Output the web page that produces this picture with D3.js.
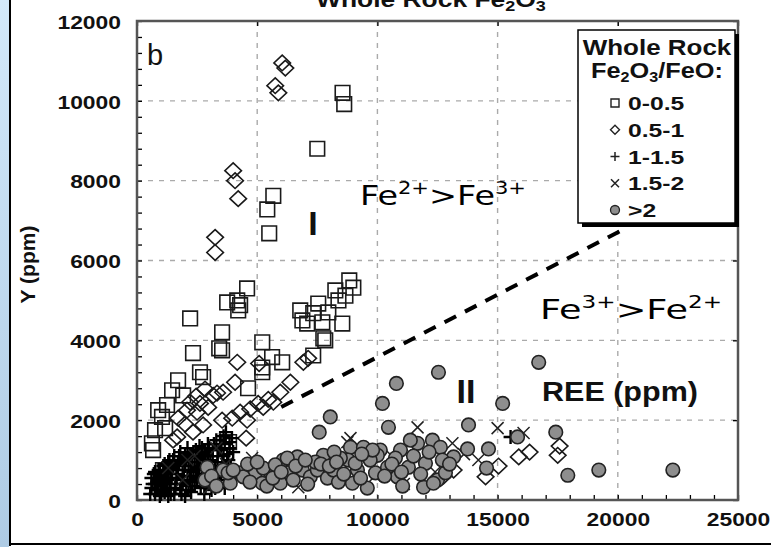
<!DOCTYPE html>
<html lang="en">
<head>
<meta charset="UTF-8">
<title>Whole Rock Fe2O3</title>
<script src="https://d3js.org/d3.v7.min.js"></script>
<style>
  body { margin: 0; background: #fff; }
  svg { display: block; }
  .lbl { font-family: "Liberation Sans", Arial, sans-serif; font-weight: bold; fill: #111; }
  .note { font-family: "DejaVu Sans", "Noto Sans", sans-serif; fill: #000; }
  .grid line { stroke: #aaa; stroke-width: 1.4; stroke-dasharray: 5,6; }
</style>
</head>
<body>
<script>
const width = 771;
const height = 547;

// axis ticks
const xTicks = [0, 5000, 10000, 15000, 20000, 25000];
const yTicks = [0, 2000, 4000, 6000, 8000, 10000, 12000];

// legend classes (whole rock Fe2O3/FeO)
const classes = ["0-0.5", "0.5-1", "1-1.5", "1.5-2", ">2"];

// [REE ppm, Y ppm]
const squarePts = [
  [8550,10200],[8620,9920],[7500,8800],[5670,7620],[5420,7280],[5500,6680],
  [4580,5300],[4170,5000],[3750,4950],[4290,4880],[4210,4750],[2210,4550],
  [3540,4200],[3420,3800],[5210,3950],[2330,3680],[6790,4750],[7540,4920],
  [8250,5250],[8830,5500],[9000,5320],[8380,5000],[7080,4420],[7710,4450],
  [8540,4420],[7830,4000],[7330,4680],[6880,4500],[7960,4700],[8670,5120],
  [5620,3580],[6040,3450],[5210,3200],[7330,3620],[7750,4050],[4620,2800],
  [2750,3080],[1710,3000],[1920,2620],[1460,2750],[1250,2380],[1040,2080],
  [1170,1800],[750,1750],[620,1420],[670,1250],[1080,750],[2620,3200],
  [5210,3320],[3830,1450],[880,2250],[3540,3750]
];

const diamondPts = [
  [6040,10950],[6170,10820],[5750,10380],[5880,10200],[4000,8250],[4080,8000],
  [4210,7550],[3250,6580],[3250,6200],
  [4170,3450],[5080,3420],[6920,3450],[7120,3550],[6380,2950],[5960,2700],
  [5460,2520],[5040,2420],[4710,2280],[4290,2200],[3960,2050],[3540,2000],
  [4580,2000],[5250,2320],[5670,2450],[4540,1550],[4080,2950],[3580,2700],
  [3170,2620],[2830,2780],[2460,2600],[2210,2450],[2620,2420],[2080,2250],
  [2500,2200],[1710,2050],[2000,1900],[2330,1700],[1670,1580],[2750,1880],
  [2960,2320],[1500,1500],[3330,2680],
  [14500,580],[15040,850],[15880,1080],[16330,1200],[17500,1120],[17580,1350],
  [13170,750],[12750,600]
];

const plusPts = [
  [550,150],[650,400],[700,650],[800,250],[850,500],[900,750],[950,100],[1000,350],
  [1050,600],[1100,850],[1150,200],[1200,450],[1250,700],[1300,950],[1350,300],
  [1400,550],[1450,800],[1500,1000],[1550,150],[1600,400],[1650,650],[1700,900],
  [1750,1100],[1800,250],[1850,500],[1900,750],[1950,1000],[2000,1150],[2050,350],
  [2100,600],[2150,850],[2200,1100],[2250,200],[2300,450],[2350,700],[2400,950],
  [2450,1250],[2500,550],[2550,800],[2600,1050],[2650,300],[2700,1300],[2750,650],
  [2800,900],[2850,1150],[2900,450],[2950,1400],[3000,750],[3050,1000],[3100,250],
  [3150,1250],[3200,550],[3250,850],[3300,1500],[3350,1100],[3400,400],[3450,700],
  [3500,1300],[3550,950],[3600,1600],[3700,600],[3750,1150],[3850,1450],[3900,850],
  [2000,100],[2800,150],[1300,100],[3650,300],[15540,1580],
  [600,300],[600,550],[750,150],[750,400],[750,700],[850,250],[900,450],[950,650],
  [1000,150],[1050,400],[1100,650],[1150,900],[1200,250],[1250,500],[1300,750],
  [1350,1000],[1400,150],[1400,400],[1450,650],[1500,850],[1550,1100],[1600,300],
  [1650,550],[1700,750],[1750,950],[1800,1200],[1850,150],[1900,400],[1950,600],
  [2000,850],[2050,1050],[2100,1300],[2150,250],[2200,500],[2250,750],[2300,950],
  [2350,1200],[2400,350],[2450,600],[2500,850],[2550,1100],[2600,1350],[2650,450],
  [2700,750],[2750,1000],[2800,1200],[2850,350],[2900,600],[2950,1100],[3000,1300],
  [3050,500],[3100,850],[3150,1100],[3200,1400],[3250,300],[3300,650],[3350,950],
  [3400,1250],[3450,1500],[3500,500],[3550,750],[3600,1100],[3650,1400],[3700,1700],
  [3800,1000],[3850,1300],[3950,1550],[4000,1200]
];

const crossPts = [
  [1300,800],[1900,500],[2400,1100],[2900,700],[3300,1300],[3700,900],[2100,1000],
  [3000,300],[4790,1050],[5960,820],[6710,320],[8750,1450],[8880,1550],[11670,1820],
  [13120,1420],[15000,1800],[16080,1680],[6380,950],[7450,800],[9900,600],
  [10600,1100],[12400,700],[9400,1000],[13600,1150],[11100,400],[14200,1000]
];

const circlePts = [
  [16710,3450],[12540,3200],[10790,2920],[10210,2420],[8040,2080],[7580,1700],
  [10460,1820],[15210,2420],[13790,1880],[17420,1700],[15830,1580],[14620,1280],
  [13750,1280],[14540,800],[17920,620],[19210,750],[22290,750],[13170,1080],
  [2920,820],[2830,500],[3580,750],[3880,420],[4290,680],[4920,680],[5210,420],
  [5540,700],[6080,1000],[6290,680],[6670,1080],[6880,750],[5960,420],[4420,580],
  [7210,580],[7750,1120],[7500,750],[7920,550],[8170,750],[8380,450],[8880,1320],
  [8790,1000],[9170,750],[9420,1320],[9920,680],[10120,1250],[9580,300],[10420,820],
  [10830,580],[10960,1250],[11290,820],[11670,1420],[12000,920],[12290,1500],
  [12620,1320],[12500,500],[11920,320],[12830,680],[9080,920],[10000,1120],
  [12330,420],[5250,800],[3790,680],[6250,1050],[8960,420],[7420,950],[5750,880],
  [8460,1050],[10750,1050],[11370,1500],
  [3100,600],[3300,350],[4000,750],[4600,900],[4700,450],[5000,950],[5400,350],
  [5650,550],[6000,700],[6500,500],[6600,850],[7000,1000],[7100,400],[7650,900],
  [8000,850],[8200,1200],[8600,650],[9300,550],[9700,1000],[9800,1250],[10300,600],
  [10600,900],[11000,700],[11500,1100],[11800,650],[12150,1200],[12700,1000],
  [13000,900],[11050,350],[9350,1150],[8300,950]
];

// dividing line between fields I and II
const dividerLine = [[6000, 2330], [20300, 6800]];

const svg = d3.select("body").append("svg")
  .attr("width", width)
  .attr("height", height);

const x = d3.scaleLinear().domain([0, 25000]).range([137, 738]);
const y = d3.scaleLinear().domain([0, 12000]).range([500, 21]);

// stretch text horizontally (the source figure is widened)
function stretch(sel, k, anchor) {
  sel.each(function () {
    const t = d3.select(this);
    const w = this.getComputedTextLength();
    t.attr("textLength", w * k).attr("lengthAdjust", "spacingAndGlyphs");
    if (anchor === "middle") t.attr("text-anchor", "start").attr("x", +t.attr("x") - w * k / 2);
    if (anchor === "end") t.attr("text-anchor", "start").attr("x", +t.attr("x") - w * k);
  });
}

// page frame: blue strip on the left, black rules
const defs = svg.append("defs");
const grad = defs.append("linearGradient").attr("id", "strip")
  .attr("x1", 0).attr("y1", 0).attr("x2", 0).attr("y2", 1);
grad.append("stop").attr("offset", 0).attr("stop-color", "#d3e9fa");
grad.append("stop").attr("offset", 1).attr("stop-color", "#aecbe4");
svg.append("rect").attr("x", 0).attr("y", 0).attr("width", 9).attr("height", height).attr("fill", "url(#strip)");
svg.append("rect").attr("x", 9).attr("y", 0).attr("width", 2).attr("height", 546).attr("fill", "#000");
svg.append("rect").attr("x", 9).attr("y", 543).attr("width", width - 9).attr("height", 2).attr("fill", "#000");

// title, cut off by the top edge as in the source
const title = svg.append("text").attr("class", "lbl")
  .attr("x", 316).attr("y", 7).style("font-size", "22px");
title.append("tspan").text("Whole Rock Fe");
title.append("tspan").attr("dy", 4).style("font-size", "15px").text("2");
title.append("tspan").attr("dy", -4).text("O");
title.append("tspan").attr("dy", 4).style("font-size", "15px").text("3");
stretch(title, 1.2);

// grid
const grid = svg.append("g").attr("class", "grid");
grid.selectAll(".gx").data(xTicks.slice(1, -1)).join("line")
  .attr("x1", d => x(d)).attr("x2", d => x(d))
  .attr("y1", y(12000)).attr("y2", y(0));
grid.selectAll(".gy").data(yTicks.slice(1, -1)).join("line")
  .attr("class", "gy")
  .attr("y1", d => y(d)).attr("y2", d => y(d))
  .attr("x1", x(0)).attr("x2", x(25000));

// minor / major ticks pointing inward
const tickG = svg.append("g").attr("stroke", "#666").attr("stroke-width", 1.3);
tickG.append("g").attr("transform", `translate(${x(0)},0)`)
  .call(d3.axisRight(y).tickValues(d3.range(0, 12001, 400)).tickSize(5).tickFormat(""))
  .call(g => g.select(".domain").remove());
tickG.append("g").attr("transform", `translate(0,${y(0)})`)
  .call(d3.axisTop(x).tickValues(d3.range(0, 25001, 1000)).tickSize(5).tickFormat(""))
  .call(g => g.select(".domain").remove());
tickG.append("g").attr("transform", `translate(0,${y(12000)})`)
  .call(d3.axisBottom(x).tickValues(xTicks).tickSize(5).tickFormat(""))
  .call(g => g.select(".domain").remove());
tickG.append("g").attr("transform", `translate(${x(25000)},0)`)
  .call(d3.axisLeft(y).tickValues(yTicks).tickSize(5).tickFormat(""))
  .call(g => g.select(".domain").remove());

// tick labels
const xAxis = svg.append("g").attr("transform", `translate(0,${y(0)})`)
  .call(d3.axisBottom(x).tickValues(xTicks).tickSize(0).tickPadding(13).tickFormat(d3.format("d")));
xAxis.select(".domain").remove();
xAxis.selectAll("text").attr("class", "lbl").style("font-size", "18px").attr("dy", "0.7em")
  .call(stretch, 1.27, "middle");

const yAxis = svg.append("g").attr("transform", `translate(${x(0)},0)`)
  .call(d3.axisLeft(y).tickValues(yTicks).tickSize(0).tickPadding(16).tickFormat(d3.format("d")));
yAxis.select(".domain").remove();
yAxis.selectAll("text").attr("class", "lbl").style("font-size", "18px").attr("dy", "0.4em")
  .call(stretch, 1.27, "end");

svg.append("text").attr("class", "lbl")
  .attr("transform", `translate(35,${(y(0) + y(12000)) / 2 + 4}) rotate(-90)`)
  .attr("text-anchor", "middle").style("font-size", "21px").text("Y (ppm)");

// plot frame
svg.append("rect")
  .attr("x", x(0)).attr("y", y(12000))
  .attr("width", x(25000) - x(0)).attr("height", y(0) - y(12000))
  .attr("fill", "none").attr("stroke", "#555").attr("stroke-width", 2.5);

// dashed divider
svg.append("path")
  .attr("d", d3.line().x(d => x(d[0])).y(d => y(d[1]))(dividerLine))
  .attr("fill", "none").attr("stroke", "#000").attr("stroke-width", 4)
  .attr("stroke-dasharray", "13,10");

// symbols
const shapes = {
  square: s => `M${-s},${-s}H${s}V${s}H${-s}Z`,
  diamond: (w, h) => `M0,${-h}L${w},0L0,${h}L${-w},0Z`,
  plus: s => `M${-s},0H${s}M0,${-s}V${s}`,
  cross: s => `M${-s},${-s}L${s},${s}M${-s},${s}L${s},${-s}`
};

const marks = svg.append("g");
marks.selectAll(".sq").data(squarePts).join("path")
  .attr("transform", d => `translate(${x(d[0])},${y(d[1])})`)
  .attr("d", shapes.square(7.3))
  .attr("fill", "none").attr("stroke", "#1a1a1a").attr("stroke-width", 1.6);
marks.selectAll(".dm").data(diamondPts).join("path")
  .attr("transform", d => `translate(${x(d[0])},${y(d[1])})`)
  .attr("d", shapes.diamond(8.3, 7.8))
  .attr("fill", "none").attr("stroke", "#1a1a1a").attr("stroke-width", 1.6);
marks.selectAll(".pl").data(plusPts).join("path")
  .attr("transform", d => `translate(${x(d[0])},${y(d[1])})`)
  .attr("d", shapes.plus(7))
  .attr("fill", "none").attr("stroke", "#000").attr("stroke-width", 2.4);
marks.selectAll(".cr").data(crossPts).join("path")
  .attr("transform", d => `translate(${x(d[0])},${y(d[1])})`)
  .attr("d", shapes.cross(6))
  .attr("fill", "none").attr("stroke", "#222").attr("stroke-width", 1.5);
marks.selectAll("circle").data(circlePts).join("circle")
  .attr("cx", d => x(d[0])).attr("cy", d => y(d[1])).attr("r", 6.8)
  .attr("fill", "#8e8e8e").attr("stroke", "#222").attr("stroke-width", 1.6);

// annotations
svg.append("text").attr("class", "lbl").style("font-weight", "normal")
  .attr("x", 147).attr("y", 65).style("font-size", "29px").text("b");
svg.append("text").attr("class", "lbl").attr("x", 313).attr("y", 235)
  .attr("text-anchor", "middle").style("font-size", "34px").text("I");
svg.append("text").attr("class", "lbl").attr("x", 466).attr("y", 403)
  .attr("text-anchor", "middle").style("font-size", "34px").text("II");
svg.append("text").attr("class", "lbl").attr("x", 542).attr("y", 401)
  .style("font-size", "27px").text("REE (ppm)").call(stretch, 1.13);

function feText(x0, y0, a, b, len) {
  const t = svg.append("text").attr("class", "note").attr("x", x0).attr("y", y0).style("font-size", "27px");
  t.append("tspan").text("Fe");
  t.append("tspan").attr("dy", -11).style("font-size", "17px").text(a);
  t.append("tspan").attr("dy", 11).text(">Fe");
  t.append("tspan").attr("dy", -11).style("font-size", "17px").text(b);
  t.attr("textLength", len).attr("lengthAdjust", "spacingAndGlyphs");
}
feText(360, 205, "2+", "3+", 166);
feText(540, 319, "3+", "2+", 182);

// legend
const lg = svg.append("g").attr("transform", "translate(578,30)");
lg.append("rect").attr("x", 4).attr("y", 4).attr("width", 157).attr("height", 193).attr("fill", "#000");
lg.append("rect").attr("width", 157).attr("height", 193).attr("fill", "#fff")
  .attr("stroke", "#000").attr("stroke-width", 1.5);
lg.append("text").attr("class", "lbl").attr("x", 79).attr("y", 25)
  .style("font-size", "22px").text("Whole Rock").call(stretch, 1.18, "middle");
const lt = lg.append("text").attr("class", "lbl").attr("x", 79).attr("y", 48).style("font-size", "22px");
lt.append("tspan").text("Fe");
lt.append("tspan").attr("dy", 4).style("font-size", "14px").text("2");
lt.append("tspan").attr("dy", -4).text("O");
lt.append("tspan").attr("dy", 4).style("font-size", "14px").text("3");
lt.append("tspan").attr("dy", -4).text("/FeO:");
stretch(lt, 1.15, "middle");

const legendSym = [
  g => g.append("path").attr("d", shapes.square(4)).attr("fill", "none").attr("stroke", "#222").attr("stroke-width", 1.4),
  g => g.append("path").attr("d", shapes.diamond(4.5, 4.5)).attr("fill", "none").attr("stroke", "#222").attr("stroke-width", 1.4),
  g => g.append("path").attr("d", shapes.plus(4.5)).attr("stroke", "#222").attr("stroke-width", 1.5),
  g => g.append("path").attr("d", shapes.cross(4)).attr("stroke", "#222").attr("stroke-width", 1.5),
  g => g.append("circle").attr("r", 4.5).attr("fill", "#8e8e8e").attr("stroke", "#222").attr("stroke-width", 1.3)
];
const rowY = d3.scalePoint().domain(classes).range([73, 180]);
classes.forEach((c, i) => {
  const row = lg.append("g").attr("transform", `translate(0,${rowY(c)})`);
  const sym = row.append("g").attr("transform", "translate(37,0)");
  legendSym[i](sym);
  row.append("text").attr("class", "lbl").attr("x", 50).attr("y", 7)
    .style("font-size", "19px").text(c).call(stretch, 1.3);
});
</script>
</body>
</html>
